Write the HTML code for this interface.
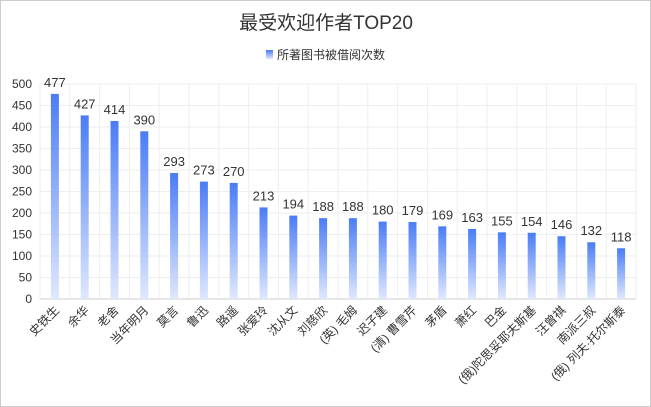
<!DOCTYPE html>
<html><head><meta charset="utf-8"><style>
html,body{margin:0;padding:0;background:#fff}
#wrap{width:649px;height:405px;border:1px solid #ccc;position:relative;overflow:hidden}
svg{font-family:"Liberation Sans","Noto Sans CJK SC",sans-serif}
</style></head><body>
<div id="wrap">
<svg id="chart" width="649" height="405">
<defs><linearGradient id="g" x1="0" y1="0" x2="0" y2="1"><stop offset="0" stop-color="#4a7cf6"/><stop offset="1" stop-color="#dfe8fd"/></linearGradient></defs>
<text x="325" y="28" text-anchor="middle" font-size="19" fill="#333">最受欢迎作者TOP20</text>
<g><rect x="265" y="49" width="7" height="9" fill="url(#g)"/><text x="276" y="58" font-size="12" fill="#333">所著图书被借阅次数</text></g>
</svg></div>
<script>
const categories=["史铁生","余华","老舍","当年明月","莫言","鲁迅","路遥","张爱玲","沈从文","刘慈欣","(英) 毛姆","迟子建","(清) 曹雪芹","茅盾","萧红","巴金","(俄)陀思妥耶夫斯基","汪曾祺","南派三叔","(俄) 列夫·托尔斯泰"];
const values=[477,427,414,390,293,273,270,213,194,188,188,180,179,169,163,155,154,146,132,118];
const yTicks=[0,50,100,150,200,250,300,350,400,450,500];
const svg=document.getElementById('chart');const NS='http://www.w3.org/2000/svg';
const L=39,R=635,T=83,B=298,yMax=500;
const step=(R-L)/categories.length;
const x=i=>L+step*(i+0.5);
const y=v=>B-(v/yMax)*(B-T);
function mk(t,a){const e=document.createElementNS(NS,t);for(const k in a)e.setAttribute(k,a[k]);svg.appendChild(e);return e;}
yTicks.forEach(v=>{
 const g=mk('line',{x1:L,x2:R,y1:y(v),y2:y(v),stroke:v===0?'#ccc':'#eee'});
 
 
 const t=mk('text',{x:L-8,y:y(v)+4,'text-anchor':'end','font-size':12,fill:'#333'});t.textContent=v;
 
 
});
for(let i=0;i<=categories.length;i++){
 const g=mk('line',{x1:L+step*i,x2:L+step*i,y1:T,y2:B,stroke:'#eee'});
 
 
}
categories.forEach((c,i)=>{
 const v=values[i];
 const b=mk('rect',{x:x(i)-4,y:y(v),width:8,height:B-y(v),fill:'url(#g)'});
 
 
 const t=mk('text',{x:x(i),y:y(v)-7,'text-anchor':'middle','font-size':13,fill:'#333'});t.textContent=v;
 
 
 const l=mk('text',{x:x(i)+5,y:B+12,'text-anchor':'end','font-size':12,fill:'#333',transform:`rotate(-45 ${x(i)+5} ${B+12})`});l.textContent=c;
 
 
});
</script>
</body></html>
